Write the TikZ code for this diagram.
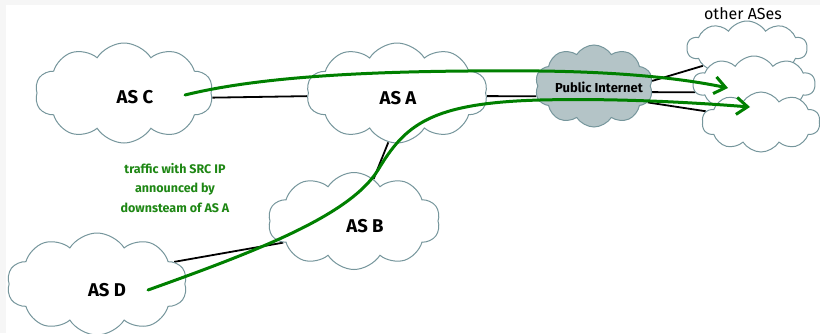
\documentclass[tikz,border=0pt]{standalone}
\usepackage{fontspec}
\setmainfont{Fira Sans}
\usetikzlibrary{shapes.symbols,arrows.meta,backgrounds}
\definecolor{cloudline}{RGB}{118,150,156}
\definecolor{netfill}{RGB}{180,196,199}
\definecolor{flow}{RGB}{0,128,0}
\definecolor{flowtext}{RGB}{30,135,20}
\definecolor{frame}{RGB}{246,246,246}
\tikzset{
  ascloud/.style={cloud, cloud puffs=10, cloud puff arc=115, cloud ignores aspect,
    draw=cloudline, line width=1pt, fill=white, inner sep=0pt},
  aslabel/.style={font=\bfseries\fontsize{18.5}{22}\selectfont, inner sep=0pt},
  link/.style={line width=1.8pt, black},
  flowpath/.style={line width=3pt, draw=flow, line cap=round,
    -{Straight Barb[length=11pt,width=17pt,line width=3pt]}},
}
\begin{document}
\begin{tikzpicture}[x=1pt,y=-1pt]
% page frame
\begin{scope}[on background layer]
\fill[frame] (0,0) rectangle (820,333);
\fill[white] (6,5) rectangle (820,333);
\end{scope}
\useasboundingbox (0,0) rectangle (820,333);

% autonomous systems
\node[ascloud, minimum width=178pt, minimum height=100pt] (asc) at (124,93) {};
\node[ascloud, minimum width=181pt, minimum height=100pt] (asa) at (397,93) {};
\node[ascloud, minimum width=172pt, minimum height=97pt] (asb) at (354,221) {};
\node[ascloud, minimum width=180pt, minimum height=102pt] (asd) at (97,284) {};
\node[ascloud, fill=netfill, minimum width=118pt, minimum height=82pt] (inet) at (594,86) {};

\node[ascloud, minimum width=120pt, minimum height=54pt] (o1) at (747,48) {};
\node[ascloud, minimum width=122pt, minimum height=56pt] (o2) at (754,84) {};
\node[ascloud, minimum width=118pt, minimum height=60pt] (o3) at (761,122) {};

\node[aslabel] (asct) at (135,97) {AS C};
\node[aslabel] (asat) at (398,98) {AS A};
\node[aslabel] (asbt) at (365,226) {AS B};
\node[aslabel] (asdt) at (107,290) {AS D};
\node[font=\bfseries\fontsize{13}{15}\selectfont, inner sep=0pt] (inett) at (599,87) {Public Internet};
\node[font=\fontsize{16}{18}\selectfont, inner sep=0pt] (others) at (743,14) {other ASes};

\node[font=\bfseries\fontsize{12.5}{19.5}\selectfont, text=flowtext, align=center, inner sep=0pt]
  (note) at (175,188) {traffic with SRC IP\\announced by\\downsteam of AS A};

% peering links
\begin{scope}[on background layer]
\draw[link] (asc.-3) -- (asa.182);
\draw[link] (asa.-2) -- (inet.190);
\draw[link] (asa.260) -- (asb.65);
\draw[link] (asd.16) -- (asb.197);
\draw[link] (inet.5) -- (o1.202);
\draw[link] (inet.-6) -- (o2.188);
\draw[link] (inet.-17) -- (o3.169);
\end{scope}

% traffic flows
\coordinate (srcC) at (185,95);
\coordinate (srcD) at (148,290);
\coordinate (dst1) at (728,88);
\coordinate (dst2) at (750,107);
\draw[flowpath] (srcC) .. controls (270,74) and (400,70) .. (540,71)
  .. controls (620,72) and (680,78) .. (dst1);
\draw[flowpath] (srcD) .. controls (260,250) and (350,215) .. (378,170)
  .. controls (405,125) and (430,103) .. (540,100)
  .. controls (620,98) and (700,103) .. (dst2);
\end{tikzpicture}
\end{document}
